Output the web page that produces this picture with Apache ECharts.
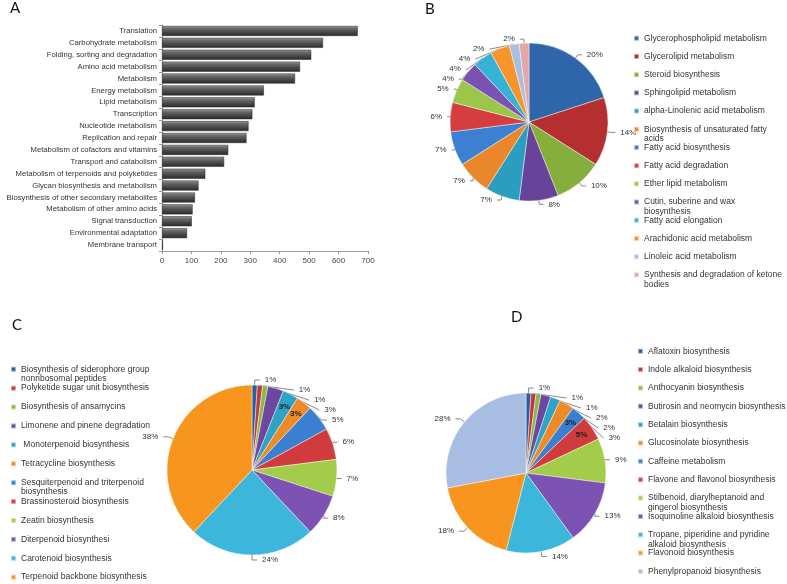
<!DOCTYPE html>
<html>
<head>
<meta charset="utf-8">
<script src="https://cdn.jsdelivr.net/npm/echarts@6/dist/echarts.min.js"></script>
<style>
  html, body { margin: 0; padding: 0; background: #fff; }
  #chart { width: 787px; height: 584px; }
</style>
</head>
<body>
<div id="chart"></div>
<script>
// Panel A - KEGG pathway counts
const aCategories = [
  "Translation", "Carbohydrate metabolism", "Folding, sorting and degradation",
  "Amino acid metabolism", "Metabolism", "Energy metabolism", "Lipid metabolism",
  "Transcription", "Nucleotide metabolism", "Replication and repair",
  "Metabolism of cofactors and vitamins", "Transport and catabolism",
  "Metabolism of terpenoids and polyketides", "Glycan biosynthesis and metabolism",
  "Biosynthesis of other secondary metabolites", "Metabolism of other amino acids",
  "Signal transduction", "Environmental adaptation", "Membrane transport"
];
const aValues = [665, 547, 507, 469, 452, 346, 315, 307, 294, 287, 225, 211, 147, 124, 112, 104, 101, 85, 3];
const aTicks = [0, 100, 200, 300, 400, 500, 600, 700];

// Panel B - lipid metabolism (%)
const bNames = [
  "Glycerophospholipid metabolism", "Glycerolipid metabolism", "Steroid biosynthesis",
  "Sphingolipid metabolism", "alpha-Linolenic acid metabolism",
  "Biosynthesis of unsaturated fatty acids", "Fatty acid biosynthesis",
  "Fatty acid degradation", "Ether lipid metabolism", "Cutin, suberine and wax biosynthesis",
  "Fatty acid elongation", "Arachidonic acid metabolism", "Linoleic acid metabolism",
  "Synthesis and degradation of ketone bodies"
];
const bValues = [20, 14, 10, 8, 7, 7, 7, 6, 5, 4, 4, 4, 2, 2];

// Panel C - terpenoids and polyketides (%)
const cNames = [
  "Biosynthesis of siderophore group nonribosomal peptides", "Polyketide sugar unit biosynthesis",
  "Biosynthesis of ansamycins", "Limonene and pinene degradation", " Monoterpenoid biosynthesis",
  "Tetracycline biosynthesis", "Sesquiterpenoid and triterpenoid biosynthesis",
  "Brassinosteroid biosynthesis", "Zeatin biosynthesis", "Diterpenoid biosynthesi",
  "Carotenoid biosynthesis", "Terpenoid backbone biosynthesis"
];
const cValues = [1, 1, 1, 3, 3, 3, 5, 6, 7, 8, 24, 38];

// Panel D - other secondary metabolites (%)
const dNames = [
  "Aflatoxin biosynthesis", "Indole alkaloid biosynthesis", "Anthocyanin biosynthesis",
  "Butirosin and neomycin biosynthesis", "Betalain biosynthesis", "Glucosinolate biosynthesis",
  "Caffeine metabolism", "Flavone and flavonol biosynthesis",
  "Stilbenoid, diarylheptanoid and gingerol biosynthesis", "Isoquinoline alkaloid biosynthesis",
  "Tropane, piperidine and pyridine alkaloid biosynthesis", "Flavonoid biosynthesis",
  "Phenylpropanoid biosynthesis"
];
const dValues = [1, 1, 1, 2, 2, 3, 3, 5, 9, 13, 14, 18, 28];

const bColors = ["#2f65a9", "#b52f31", "#86ae3d", "#67449a", "#2b9ebf", "#e9872a",
  "#3b80d2", "#d43e3f", "#9bc64b", "#7b52b2", "#35b2d6", "#f7952d", "#a9bfe2", "#e5a6a6"];
const cColors = ["#2a5ea3", "#c0393b", "#8bb944", "#6d469f", "#2ea4c4", "#ee8a27",
  "#3b7fd3", "#d03b3e", "#a3cc4a", "#7c53b3", "#3cb6da", "#f7951f"];
const dColors = cColors.concat(["#a7bde2"]);

const FONT = "'Liberation Sans', Arial, sans-serif";
const LETTER = { fontSize: 15, fontWeight: "normal", color: "#111", fontFamily: "Lato, sans-serif" };

// greedy word wrap; every legend entry gets a blank line above and a
// (possibly empty) second line so the marker sits on the first text line
function wrap(name, max) {
  const words = name.trim().split(" ");
  const lines = [];
  let cur = "";
  words.forEach(function (w) {
    const next = cur ? cur + " " + w : w;
    if (next.length > max && cur) {
      lines.push(cur);
      cur = w;
    } else {
      cur = next;
    }
  });
  lines.push(cur);
  if (name.charAt(0) === " ") lines[0] = " " + lines[0];
  return "\n" + lines[0] + "\n" + (lines[1] || "");
}

function pieData(names, values, insideIdx) {
  return names.map(function (n, i) {
    const item = { name: n, value: values[i] };
    if (insideIdx.indexOf(i) >= 0) {
      item.label = { position: "inside", fontWeight: "bold", color: "#222" };
      item.labelLine = { show: false };
    }
    return item;
  });
}

function pieSeries(name, data, colors, center, radius, insideIdx, len) {
  return {
    name: name,
    type: "pie",
    center: center,
    radius: radius,
    startAngle: 90,
    color: colors,
    data: data,
    animation: false,
    itemStyle: { borderColor: "rgba(255,255,255,0.55)", borderWidth: 0.8 },
    label: {
      formatter: "{c}%",
      fontSize: 8,
      color: "#333",
      fontFamily: FONT
    },
    labelLine: {
      length: len,
      length2: len,
      lineStyle: { color: "#555", width: 0.7 }
    },
    // push the inside labels out toward the rim, as in the original
    labelLayout: function (params) {
      if (insideIdx.indexOf(params.dataIndex) < 0) return {};
      const r = params.labelRect;
      const lx = r.x + r.width / 2 - center[0];
      const ly = r.y + r.height / 2 - center[1];
      const d = Math.sqrt(lx * lx + ly * ly) || 1;
      const k = (radius * 0.84) / d - 1;
      return { dx: lx * k, dy: ly * k };
    }
  };
}

function legend(names, left, top, gap, max) {
  return {
    orient: "vertical",
    left: left,
    top: top,
    height: 420,
    padding: 0,
    icon: "rect",
    itemWidth: 5,
    itemHeight: 5,
    itemGap: gap,
    selectedMode: false,
    data: names,
    formatter: function (n) { return wrap(n, max); },
    textStyle: { fontSize: 8.5, color: "#333", fontFamily: FONT, lineHeight: 9.5 }
  };
}

const chart = echarts.init(document.getElementById("chart"));

const barColor = new echarts.graphic.LinearGradient(0, 0, 0, 1, [
  { offset: 0, color: "#a0a0a0" },
  { offset: 0.25, color: "#6a6a6a" },
  { offset: 0.6, color: "#4a4a4a" },
  { offset: 1, color: "#2a2a2a" }
]);

const cInside = [4, 5];
const dInside = [6, 7];

const option = {
  backgroundColor: "#fff",
  animation: false,
  title: [
    { text: "A", left: 10, top: 1, padding: 0, textStyle: LETTER },
    { text: "B", left: 425, top: 2, padding: 0, textStyle: LETTER },
    { text: "C", left: 12, top: 318, padding: 0, textStyle: LETTER },
    { text: "D", left: 511, top: 310, padding: 0, textStyle: LETTER }
  ],
  grid: { left: 162, top: 25, width: 206, height: 226, outerBoundsMode: "none", containLabel: false },
  xAxis: {
    type: "value",
    min: 0,
    max: 700,
    interval: 100,
    splitLine: { show: false },
    axisLine: { show: true, lineStyle: { color: "#999" } },
    axisTick: { show: true, length: 3, lineStyle: { color: "#999" } },
    axisLabel: { fontSize: 8, color: "#444", fontFamily: FONT, margin: 6,
      formatter: function (v) { return aTicks.indexOf(v) >= 0 ? String(v) : ""; } }
  },
  yAxis: {
    type: "category",
    data: aCategories,
    inverse: true,
    axisLine: { show: true, lineStyle: { color: "#999" } },
    axisTick: { show: true, length: 3, lineStyle: { color: "#999" } },
    axisLabel: { fontSize: 7.7, color: "#333", margin: 5, fontFamily: FONT }
  },
  legend: [
    legend(bNames, 633, 24, -10.3, 35),
    legend(cNames, 10, 355, -9.6, 34),
    legend(dNames, 637, 337, -10.15, 35)
  ],
  series: [
    {
      type: "bar",
      data: aValues,
      barCategoryGap: "16%",
      itemStyle: { color: barColor, borderColor: "#222", borderWidth: 0.5 }
    },
    pieSeries("B", pieData(bNames, bValues, []), bColors, [529, 122], 79, [], 4),
    pieSeries("C", pieData(cNames, cValues, cInside), cColors, [252, 470], 85, cInside, 5),
    pieSeries("D", pieData(dNames, dValues, dInside), dColors, [526, 473], 80, dInside, 5)
  ]
};

chart.setOption(option);
</script>
</body>
</html>
